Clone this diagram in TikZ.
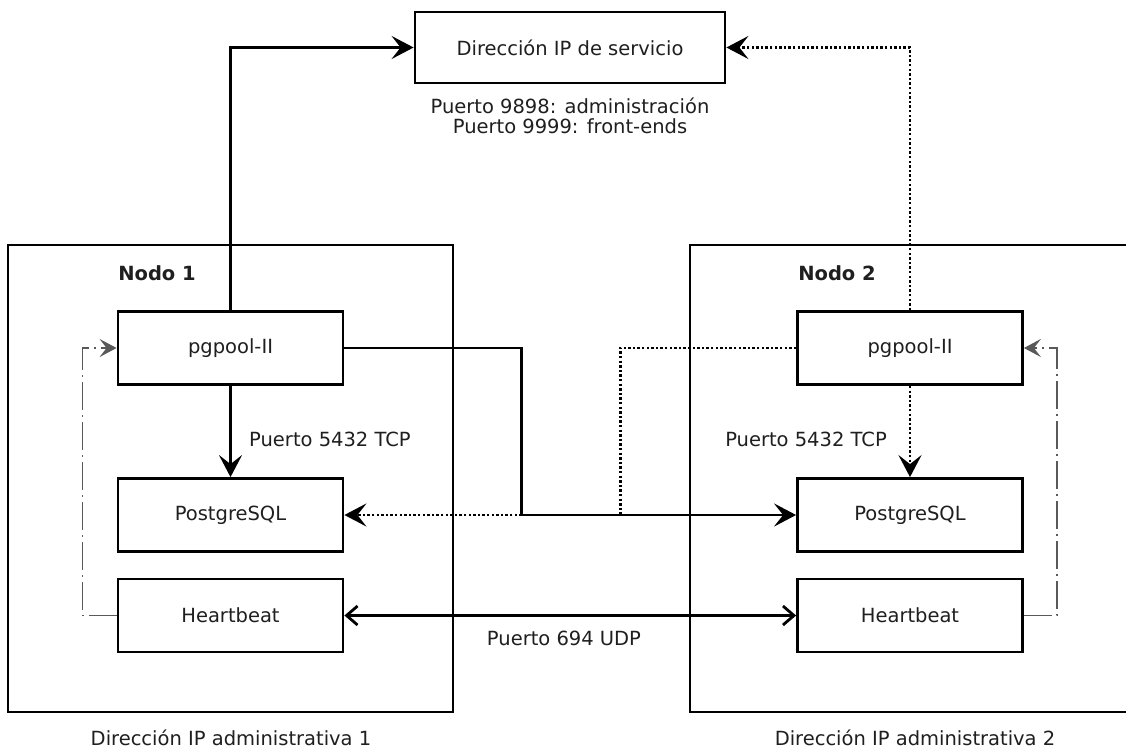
\documentclass[tikz,border=0pt]{standalone}
\usepackage{fontspec}
\setmainfont{DejaVu Sans}
\usetikzlibrary{arrows.meta,calc}
\begin{document}
\begin{tikzpicture}[x=1pt,y=-1pt,
  every node/.style={font=\fontsize{19.5pt}{20pt}\selectfont, text=black!88},
  box/.style={draw, line width=2.8pt, minimum width=225pt, minimum height=73pt, inner sep=0pt},
  conn/.style={line width=2.8pt, -{Stealth[length=22pt,width=23pt,inset=9pt]}},
  dotconn/.style={conn, dash pattern=on 2.4pt off 2.2pt},
  hbconn/.style={line width=2.8pt, {Straight Barb[length=11pt,width=19pt,line width=2.8pt]}-{Straight Barb[length=11pt,width=19pt,line width=2.8pt]}},
  monconn/.style={line width=1.4pt, draw=black!65, dash pattern=on 28pt off 5pt on 2pt off 5pt, -{Stealth[length=17pt,width=18pt,inset=7pt]}},
  lbl/.style={inner sep=0pt}
]
\useasboundingbox (0,0) rectangle (1126,749);
\fill[white] (0,0) rectangle (1126,749);

% service IP
\node[draw, line width=2.8pt, minimum width=310pt, minimum height=71pt, inner sep=0pt] (svc) at (570,47.5) {Dirección IP de servicio};
\node[lbl, align=center] (ports) at (570,116) {Puerto 9898: administración\\Puerto 9999: front-ends};

% node containers
\node[draw, line width=2.8pt, minimum width=445pt, minimum height=467pt, inner sep=0pt] (n1) at (230.5,478.5) {};
\draw[line width=2.8pt] (1130,245) -- (690,245) -- (690,712) -- (1130,712);
\node[lbl, font=\fontsize{19.5pt}{20pt}\selectfont\bfseries] (n1lab) at (157,273) {Nodo 1};
\node[lbl, font=\fontsize{19.5pt}{20pt}\selectfont\bfseries] (n2lab) at (837,273) {Nodo 2};

% inner boxes
\node[box] (pg1) at (230.5,348) {pgpool-II};
\node[box] (pgs1) at (230.5,515) {PostgreSQL};
\node[box] (hb1) at (230.5,615.5) {Heartbeat};
\node[box] (pg2) at (910,348) {pgpool-II};
\node[box] (pgs2) at (910,515) {PostgreSQL};
\node[box] (hb2) at (910,615.5) {Heartbeat};

% connectors
\draw[conn] (pg1.north) |- (svc.west);
\draw[dotconn] (pg2.north) |- (svc.east);
\draw[conn] (pg1.south) -- (pgs1.north);
\draw[dotconn] (pg2.south) -- (pgs2.north);
\draw[conn] (pg1.east) -- ++(177,0) |- (pgs2.west);
\draw[dotconn] (pg2.west) -- ++(-176,0) |- (pgs1.east);
\draw[hbconn] (hb1.east) -- (hb2.west);
\draw[monconn] (hb1.west) -- ++(-34,0) |- (pg1.west);
\draw[monconn] (hb2.east) -- ++(33,0) |- (pg2.east);

% labels
\node[lbl, anchor=west] (l1) at (249,439) {Puerto 5432 TCP};
\node[lbl, anchor=east] (l2) at (887,439) {Puerto 5432 TCP};
\node[lbl] (l3) at (564,638) {Puerto 694 UDP};
\node[lbl] (a1) at (231,738) {Dirección IP administrativa 1};
\node[lbl] (a2) at (915,738) {Dirección IP administrativa 2};
\end{tikzpicture}
\end{document}
